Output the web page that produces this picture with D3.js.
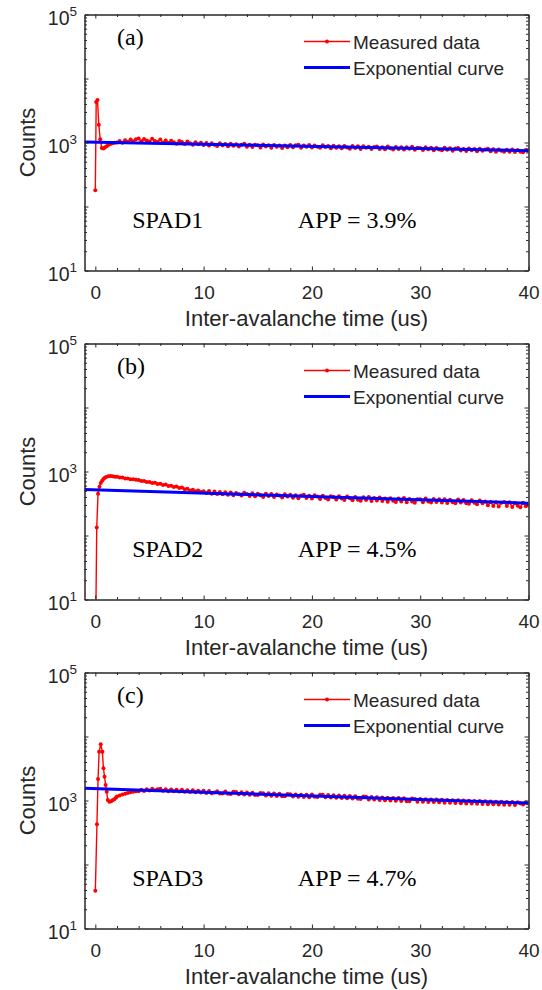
<!doctype html>
<html>
<head>
<meta charset="utf-8">
<title>Inter-avalanche time histograms</title>
<script src="https://cdnjs.cloudflare.com/ajax/libs/d3/7.8.5/d3.min.js"></script>
<style>
  body { margin: 0; background: #fff; }
  text { font-family: "Liberation Sans", Arial, sans-serif; fill: #262626; }
  .note { font-family: "Liberation Serif", "Times New Roman", serif; fill: #000; font-size: 24px; }
  .domain, .tick line { stroke: #262626; stroke-width: 1; }
</style>
</head>
<body>
<script>
// ---- data ----
var xTicks = [0, 10, 20, 30, 40];
var xMinorTicks = [2, 4, 6, 8, 12, 14, 16, 18, 22, 24, 26, 28, 32, 34, 36, 38];
var yLabelExps = [1, 3, 5];
var panelTags = ["(a)", "(b)", "(c)"];
var spadNames = ["SPAD1", "SPAD2", "SPAD3"];
var appLabels = ["APP = 3.9%", "APP = 4.5%", "APP = 4.7%"];
var legendNames = ["Measured data", "Exponential curve"];

// early transient (us)
var headTimeA = [0, 0.08, 0.2, 0.32, 0.45, 0.6, 0.75, 0.9, 1.05, 1.2, 1.4, 1.6, 1.8];
var headCountsA = [180, 4300, 4600, 1900, 1120, 820, 805, 840, 870, 910, 950, 975, 990];
var headTimeB = [0, 0.13, 0.25, 0.38, 0.5, 0.63, 0.75, 0.88, 1.0, 1.2, 1.4, 1.6, 1.8];
var headCountsB = [1, 133, 450, 580, 660, 720, 765, 800, 820, 840, 850, 845, 830];
var headTimeC = [0, 0.15, 0.25, 0.35, 0.5, 0.65, 0.75, 0.85, 0.95, 1.05, 1.15, 1.3, 1.45, 1.6, 1.75, 1.9];
var headCountsC = [39, 425, 2170, 5800, 7550, 5800, 3200, 2350, 1750, 1370, 1020, 960, 975, 1010, 1050, 1100];

// rest of the histogram (us), one row per 2 us
var tailTime = [
  2.0, 2.25, 2.5, 2.75, 3.0, 3.25, 3.5, 3.75,
  4.0, 4.25, 4.5, 4.75, 5.0, 5.25, 5.5, 5.75,
  6.0, 6.25, 6.5, 6.75, 7.0, 7.25, 7.5, 7.75,
  8.0, 8.25, 8.5, 8.75, 9.0, 9.25, 9.5, 9.75,
  10.0, 10.25, 10.5, 10.75, 11.0, 11.25, 11.5, 11.75,
  12.0, 12.25, 12.5, 12.75, 13.0, 13.25, 13.5, 13.75,
  14.0, 14.25, 14.5, 14.75, 15.0, 15.25, 15.5, 15.75,
  16.0, 16.25, 16.5, 16.75, 17.0, 17.25, 17.5, 17.75,
  18.0, 18.25, 18.5, 18.75, 19.0, 19.25, 19.5, 19.75,
  20.0, 20.25, 20.5, 20.75, 21.0, 21.25, 21.5, 21.75,
  22.0, 22.25, 22.5, 22.75, 23.0, 23.25, 23.5, 23.75,
  24.0, 24.25, 24.5, 24.75, 25.0, 25.25, 25.5, 25.75,
  26.0, 26.25, 26.5, 26.75, 27.0, 27.25, 27.5, 27.75,
  28.0, 28.25, 28.5, 28.75, 29.0, 29.25, 29.5, 29.75,
  30.0, 30.25, 30.5, 30.75, 31.0, 31.25, 31.5, 31.75,
  32.0, 32.25, 32.5, 32.75, 33.0, 33.25, 33.5, 33.75,
  34.0, 34.25, 34.5, 34.75, 35.0, 35.25, 35.5, 35.75,
  36.0, 36.25, 36.5, 36.75, 37.0, 37.25, 37.5, 37.75,
  38.0, 38.25, 38.5, 38.75, 39.0, 39.25, 39.5, 39.75,
  40.0];
var tailCountsA = [
  1000, 1060, 990, 1085, 1030, 1110, 1045, 1120,
  1150, 1050, 1130, 1075, 1040, 1140, 1060, 1020,
  1110, 1000, 1075, 985, 1065, 1010, 960, 1060,
  1020, 950, 1040, 970, 925, 1010, 935, 990,
  910, 985, 900, 970, 920, 880, 975, 905,
  945, 870, 960, 890, 940, 865, 925, 955,
  860, 925, 850, 920, 905, 835, 930, 865,
  905, 830, 910, 855, 895, 820, 900, 845,
  910, 840, 905, 920, 830, 895, 855, 915,
  835, 900, 860, 825, 905, 850, 880, 815,
  890, 830, 875, 810, 880, 835, 800, 885,
  820, 870, 795, 875, 825, 860, 790, 850,
  865, 795, 845, 785, 865, 810, 780, 850,
  790, 845, 775, 840, 800, 855, 770, 830,
  820, 765, 845, 785, 825, 755, 820, 775,
  755, 830, 770, 810, 745, 805, 820, 750,
  795, 735, 805, 755, 790, 730, 800, 745,
  780, 800, 730, 785, 720, 780, 745, 715,
  770, 720, 780, 710, 765, 720, 705, 765,
  760];
var tailCountsB = [
  825, 805, 805, 780, 780, 755, 755, 740,
  735, 712, 710, 688, 685, 662, 665, 640,
  645, 615, 625, 595, 600, 570, 585, 550,
  560, 530, 540, 505, 520, 490, 505, 478,
  490, 460, 495, 450, 485, 445, 480, 440,
  475, 432, 468, 425, 462, 440, 420, 465,
  445, 415, 458, 410, 450, 425, 400, 448,
  415, 445, 398, 438, 420, 392, 440, 405,
  432, 390, 425, 382, 420, 435, 385, 418,
  380, 425, 405, 372, 418, 385, 365, 412,
  398, 365, 410, 378, 358, 405, 382, 355,
  400, 362, 348, 395, 360, 398, 345, 385,
  352, 392, 345, 380, 338, 382, 350, 335,
  378, 340, 385, 332, 372, 340, 325, 370,
  370, 332, 378, 340, 328, 372, 335, 368,
  328, 368, 322, 362, 332, 318, 365, 328,
  360, 320, 312, 355, 325, 308, 352, 318,
  340, 296, 335, 290, 330, 284, 325, 335,
  288, 330, 280, 322, 292, 276, 325, 286,
  305];
var tailCountsC = [
  1150, 1200, 1245, 1280, 1310, 1345, 1370, 1395,
  1400, 1470, 1410, 1500, 1430, 1520, 1440, 1495,
  1530, 1420, 1500, 1400, 1490, 1395, 1475, 1380,
  1470, 1370, 1450, 1355, 1440, 1340, 1425, 1330,
  1420, 1315, 1405, 1300, 1330, 1400, 1290, 1285,
  1380, 1270, 1260, 1365, 1355, 1250, 1345, 1240,
  1335, 1235, 1325, 1220, 1215, 1310, 1300, 1200,
  1295, 1190, 1285, 1180, 1275, 1170, 1160, 1265,
  1255, 1155, 1245, 1140, 1235, 1130, 1225, 1120,
  1245, 1145, 1135, 1230, 1225, 1120, 1215, 1110,
  1205, 1105, 1195, 1090, 1185, 1080, 1175, 1070,
  1165, 1065, 1055, 1155, 1145, 1040, 1135, 1035,
  1120, 1015, 1110, 1010, 1100, 1000, 1095, 995,
  1090, 985, 1080, 975, 970, 1070, 1060, 960,
  1060, 955, 1050, 950, 1040, 945, 1035, 935,
  1025, 925, 1020, 920, 1010, 915, 1005, 905,
  1000, 900, 990, 895, 985, 890, 980, 880,
  975, 875, 965, 870, 960, 865, 955, 860,
  950, 855, 945, 850, 940, 900, 865, 930,
  900];

// exponential fit, end points
var fitTime = [-1, 40];
var fitCountsA = [1020, 745];
var fitCountsB = [523, 320];
var fitCountsC = [1550, 910];

// annotation anchors in data units
var tagPos = [2.0, 33000];
var spadPos = [3.4, 46];
var appPos = [18.7, 46];

// ---- layout ----
var W = 542, H = 990;
var plotLeft = 84.5, plotRight = 528.5, plotH = 256;
var panelTops = [14.5, 343.5, 672.5];
var axisColor = "#262626";

var panels = [
  { head: [headTimeA, headCountsA], tail: tailCountsA, fit: fitCountsA },
  { head: [headTimeB, headCountsB], tail: tailCountsB, fit: fitCountsB },
  { head: [headTimeC, headCountsC], tail: tailCountsC, fit: fitCountsC }
];

var svg = d3.select("body").append("svg")
    .attr("width", W)
    .attr("height", H);

var x = d3.scaleLinear().domain([-1, 40]).range([plotLeft, plotRight]);

var majorDecades = [10, 100, 1000, 10000, 100000];
var minorDecades = [];
[10, 100, 1000, 10000].forEach(function (d) {
  for (var m = 2; m <= 9; m++) minorDecades.push(d * m);
});

panels.forEach(function (p, i) {
  var top = panelTops[i];
  var bottom = top + plotH;
  var y = d3.scaleLog().domain([10, 1e5]).range([bottom, top]);
  var g = svg.append("g");

  g.append("clipPath").attr("id", "clip" + i)
    .append("rect")
    .attr("x", plotLeft).attr("y", top)
    .attr("width", plotRight - plotLeft).attr("height", plotH);

  // measured points
  var pts = [];
  p.head[0].forEach(function (t, k) { pts.push([t, p.head[1][k]]); });
  tailTime.forEach(function (t, k) { pts.push([t, p.tail[k]]); });

  var line = d3.line()
      .x(function (d) { return x(d[0]); })
      .y(function (d) { return y(d[1]); });

  var plot = g.append("g").attr("clip-path", "url(#clip" + i + ")");
  plot.append("path")
      .datum(pts)
      .attr("d", line)
      .attr("fill", "none")
      .attr("stroke", "#ff0000")
      .attr("stroke-width", 1.4);
  plot.selectAll("circle")
      .data(pts)
      .enter().append("circle")
      .attr("cx", function (d) { return x(d[0]); })
      .attr("cy", function (d) { return y(d[1]); })
      .attr("r", 2)
      .attr("fill", "#ff0000");

  var fitPts = fitTime.map(function (t, k) { return [t, p.fit[k]]; });
  plot.append("path")
      .datum(fitPts)
      .attr("d", line)
      .attr("fill", "none")
      .attr("stroke", "#0000ff")
      .attr("stroke-width", 3);

  // axes: inward ticks on all four sides
  g.append("g").attr("transform", "translate(0," + bottom + ")")
    .call(d3.axisBottom(x).tickValues(xTicks).tickSizeInner(-4).tickSizeOuter(0).tickPadding(15).tickFormat(d3.format("d")))
    .call(function (a) { a.selectAll("text").attr("font-size", 19).attr("fill", axisColor).attr("font-family", "Liberation Sans, Arial, sans-serif"); });
  g.append("g").attr("transform", "translate(0," + bottom + ")")
    .call(d3.axisBottom(x).tickValues(xMinorTicks).tickSizeInner(-2.5).tickSizeOuter(0).tickFormat(""));
  g.append("g").attr("transform", "translate(0," + top + ")")
    .call(d3.axisTop(x).tickValues(xTicks).tickSizeInner(-4).tickSizeOuter(0).tickFormat(""));
  g.append("g").attr("transform", "translate(0," + top + ")")
    .call(d3.axisTop(x).tickValues(xMinorTicks).tickSizeInner(-2.5).tickSizeOuter(0).tickFormat(""));

  g.append("g").attr("transform", "translate(" + plotLeft + ",0)")
    .call(d3.axisLeft(y).tickValues(majorDecades).tickSizeInner(-4).tickSizeOuter(0).tickFormat(""));
  g.append("g").attr("transform", "translate(" + plotLeft + ",0)")
    .call(d3.axisLeft(y).tickValues(minorDecades).tickSizeInner(-2.5).tickSizeOuter(0).tickFormat(""));
  g.append("g").attr("transform", "translate(" + plotRight + ",0)")
    .call(d3.axisRight(y).tickValues(majorDecades).tickSizeInner(-4).tickSizeOuter(0).tickFormat(""));
  g.append("g").attr("transform", "translate(" + plotRight + ",0)")
    .call(d3.axisRight(y).tickValues(minorDecades).tickSizeInner(-2.5).tickSizeOuter(0).tickFormat(""));

  // y tick labels 10^n
  yLabelExps.forEach(function (e) {
    var t = g.append("text")
        .attr("x", plotLeft - 7.5)
        .attr("y", y(Math.pow(10, e)) + 10.5)
        .attr("text-anchor", "end")
        .attr("font-size", 19.5);
    t.append("tspan").text("10");
    t.append("tspan").attr("dy", -9).attr("font-size", 13.5).text(e);
  });

  // axis titles
  g.append("text")
      .attr("transform", "translate(35," + (top + plotH / 2) + ") rotate(-90)")
      .attr("text-anchor", "middle")
      .attr("font-size", 22)
      .text("Counts");
  g.append("text")
      .attr("x", (plotLeft + plotRight) / 2)
      .attr("y", bottom + 55)
      .attr("text-anchor", "middle")
      .attr("font-size", 22)
      .text("Inter-avalanche time (us)");

  // annotations
  g.append("text").attr("class", "note")
      .attr("x", x(tagPos[0])).attr("y", y(tagPos[1]))
      .text(panelTags[i]);
  g.append("text").attr("class", "note")
      .attr("x", x(spadPos[0])).attr("y", y(spadPos[1]))
      .text(spadNames[i]);
  g.append("text").attr("class", "note")
      .attr("x", x(appPos[0])).attr("y", y(appPos[1]))
      .text(appLabels[i]);

  // legend (no box)
  var lg = g.append("g").attr("transform", "translate(304," + (top + 27) + ")");
  lg.append("line").attr("x1", 0).attr("x2", 46).attr("y1", 0).attr("y2", 0)
    .attr("stroke", "#ff0000").attr("stroke-width", 1.4);
  lg.append("circle").attr("cx", 23).attr("cy", 0).attr("r", 2).attr("fill", "#ff0000");
  lg.append("line").attr("x1", 0).attr("x2", 46).attr("y1", 26).attr("y2", 26)
    .attr("stroke", "#0000ff").attr("stroke-width", 3);
  lg.selectAll("text.leg")
    .data(legendNames)
    .enter().append("text")
    .attr("class", "leg")
    .attr("x", 49)
    .attr("y", function (d, k) { return k * 26 + 7; })
    .attr("font-size", 19)
    .attr("fill", "#000")
    .text(function (d) { return d; });
});
</script>
</body>
</html>
